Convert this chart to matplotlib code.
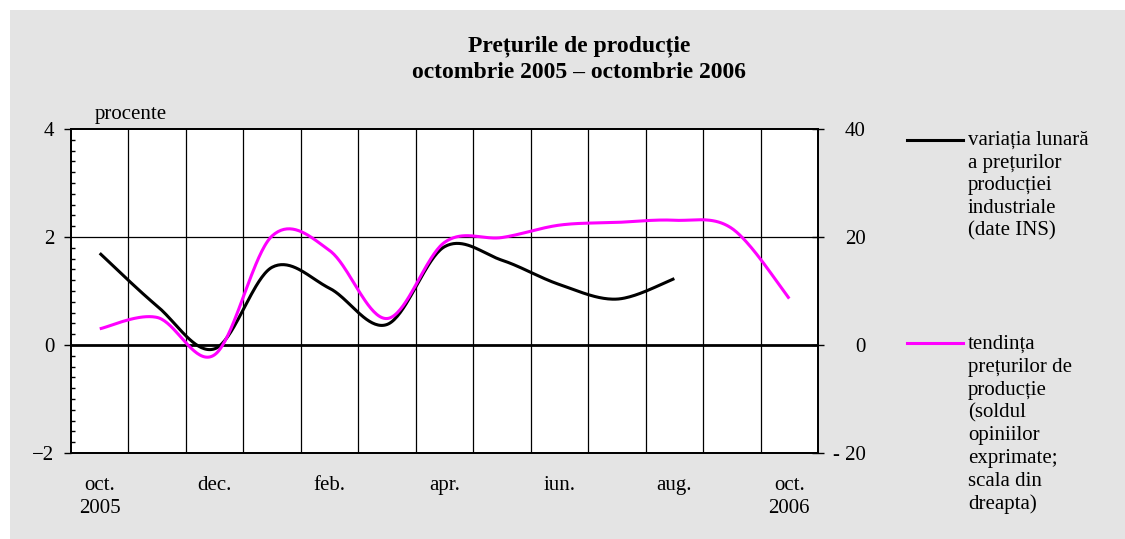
import numpy as np
import matplotlib
matplotlib.use("Agg")
import matplotlib.pyplot as plt
from matplotlib.patches import Rectangle
from matplotlib.lines import Line2D

plt.rcParams['font.family'] = ['Liberation Serif', 'DejaVu Serif']

# ---------------- data ----------------
months = ['oct.\n2005', 'nov.', 'dec.', 'ian.', 'feb.', 'mar.', 'apr.', 'mai', 'iun.', 'iul.', 'aug.', 'sep.', 'oct.\n2006']
shown_labels = ['oct.\n2005', '', 'dec.', '', 'feb.', '', 'apr.', '', 'iun.', '', 'aug.', '', 'oct.\n2006']
variatia_lunara = [1.70, 0.72, -0.07, 1.44, 1.05, 0.38, 1.82, 1.57, 1.12, 0.85, 1.23]   # % (left axis)
tendinta = [3.0, 5.1, -1.8, 20.2, 17.5, 4.9, 19.0, 19.9, 22.2, 22.7, 23.1, 21.6, 8.6]    # sold (right axis)
left_ticks = [-2, 0, 2, 4]
left_ticklabels = ['\u22122', '0', '2', '4']
right_ticks = [-20, 0, 20, 40]
right_ticklabels = ['- 20', '0', '20', '40']

title_lines = ['Prețurile de producție', 'octombrie 2005 \u2013 octombrie 2006']
legend1_lines = ['variația lunară', 'a prețurilor', 'producției', 'industriale', '(date INS)']
legend2_lines = ['tendința', 'prețurilor de', 'producție', '(soldul', 'opiniilor', 'exprimate;',
                 'scala din', 'dreapta)']


def smooth(xs, ys, n=40):
    """Excel-like smoothed line: cubic Bezier with Catmull-Rom control points."""
    xs = np.asarray(xs, float)
    ys = np.asarray(ys, float)
    P = np.column_stack([xs, ys])
    out = []
    m = len(P)
    for i in range(m - 1):
        p0 = P[i - 1] if i > 0 else P[i]
        p1 = P[i]
        p2 = P[i + 1]
        p3 = P[i + 2] if i + 2 < m else P[i + 1]
        c1 = p1 + (p2 - p0) / 6.0
        c2 = p2 - (p3 - p1) / 6.0
        t = np.linspace(0, 1, n)[:, None]
        seg = ((1 - t) ** 3) * p1 + 3 * ((1 - t) ** 2) * t * c1 + 3 * (1 - t) * t ** 2 * c2 + t ** 3 * p2
        out.append(seg if i == 0 else seg[1:])
    seg = np.vstack(out)
    return seg[:, 0], seg[:, 1]


W, H = 1125, 539
FS = 15
fig = plt.figure(figsize=(W / 100, H / 100), dpi=100)
fig.patches.append(Rectangle((10 / W, 0), (W - 10) / W, (H - 10) / H, transform=fig.transFigure,
                             facecolor='#e4e4e4', edgecolor='none', zorder=-10))

ax = fig.add_axes([71 / W, (H - 453) / H, 747 / W, 324 / H])
ax.set_facecolor('white')
ax.set_xlim(0, len(months))
ax.set_ylim(-2, 4)

# grid
for xv in range(1, len(months)):
    ax.axvline(xv, color='black', lw=0.9, zorder=1)
ax.axhline(2, color='black', lw=0.9, zorder=1)
ax.axhline(0, color='black', lw=2.0, zorder=1)

xc = np.arange(len(months)) + 0.5

ax2 = ax.twinx()
ax2.set_ylim(-20, 40)

bx, by = smooth(xc[:len(variatia_lunara)], variatia_lunara)
ax.plot(bx, by, color='black', lw=2.2, zorder=5, solid_capstyle='butt')
mx, my = smooth(xc, tendinta)
ax2.plot(mx, my, color='#ff00ff', lw=2.2, zorder=5, solid_capstyle='butt')

# x axis
ax.set_xticks(range(0, len(months) + 1))
ax.set_xticklabels([])
ax.tick_params(axis='x', which='major', length=0)
ax.set_xticks(xc, minor=True)
ax.set_xticklabels(shown_labels, minor=True, fontsize=FS, linespacing=1.3)
ax.tick_params(axis='x', which='minor', length=0, pad=16.5)

# left y axis
ax.set_yticks(left_ticks)
ax.set_yticklabels(left_ticklabels, fontsize=FS)
ax.set_yticks(np.arange(-2, 4.01, 0.2), minor=True)
ax.tick_params(axis='y', which='major', direction='out', length=5, width=1.0, pad=7)
ax.tick_params(axis='y', which='minor', direction='in', length=3, width=1.0)
ax.yaxis.set_ticks_position('left')

# right y axis
ax2.set_yticks(right_ticks)
ax2.set_yticklabels(right_ticklabels, fontsize=FS)
ax2.tick_params(axis='y', direction='inout', length=9, width=1.0, pad=30)
for lab in ax2.get_yticklabels():
    lab.set_ha('right')

for a in (ax, ax2):
    for s in a.spines.values():
        s.set_linewidth(1.3)
        s.set_color('black')

fig.text(95 / W, (H - 119) / H, 'procente', fontsize=FS, va='baseline', ha='left')
fig.text(579 / W, (H - 51) / H, title_lines[0], fontsize=17, fontweight='bold', ha='center', va='baseline')
fig.text(579 / W, (H - 78) / H, title_lines[1], fontsize=17, fontweight='bold', ha='center', va='baseline')

# legend
fig.add_artist(Line2D([907 / W, 963 / W], [(H - 140) / H] * 2, color='black', lw=2.2,
                      transform=fig.transFigure))
for i, line in enumerate(legend1_lines):
    fig.text(968 / W, (H - 145 - i * 22.7) / H, line, fontsize=FS, ha='left', va='baseline')
fig.add_artist(Line2D([907 / W, 963 / W], [(H - 343) / H] * 2, color='#ff00ff', lw=2.2,
                      transform=fig.transFigure))
for i, line in enumerate(legend2_lines):
    fig.text(968 / W, (H - 349 - i * 22.8) / H, line, fontsize=FS, ha='left', va='baseline')

fig.savefig('out.png', dpi=100)
